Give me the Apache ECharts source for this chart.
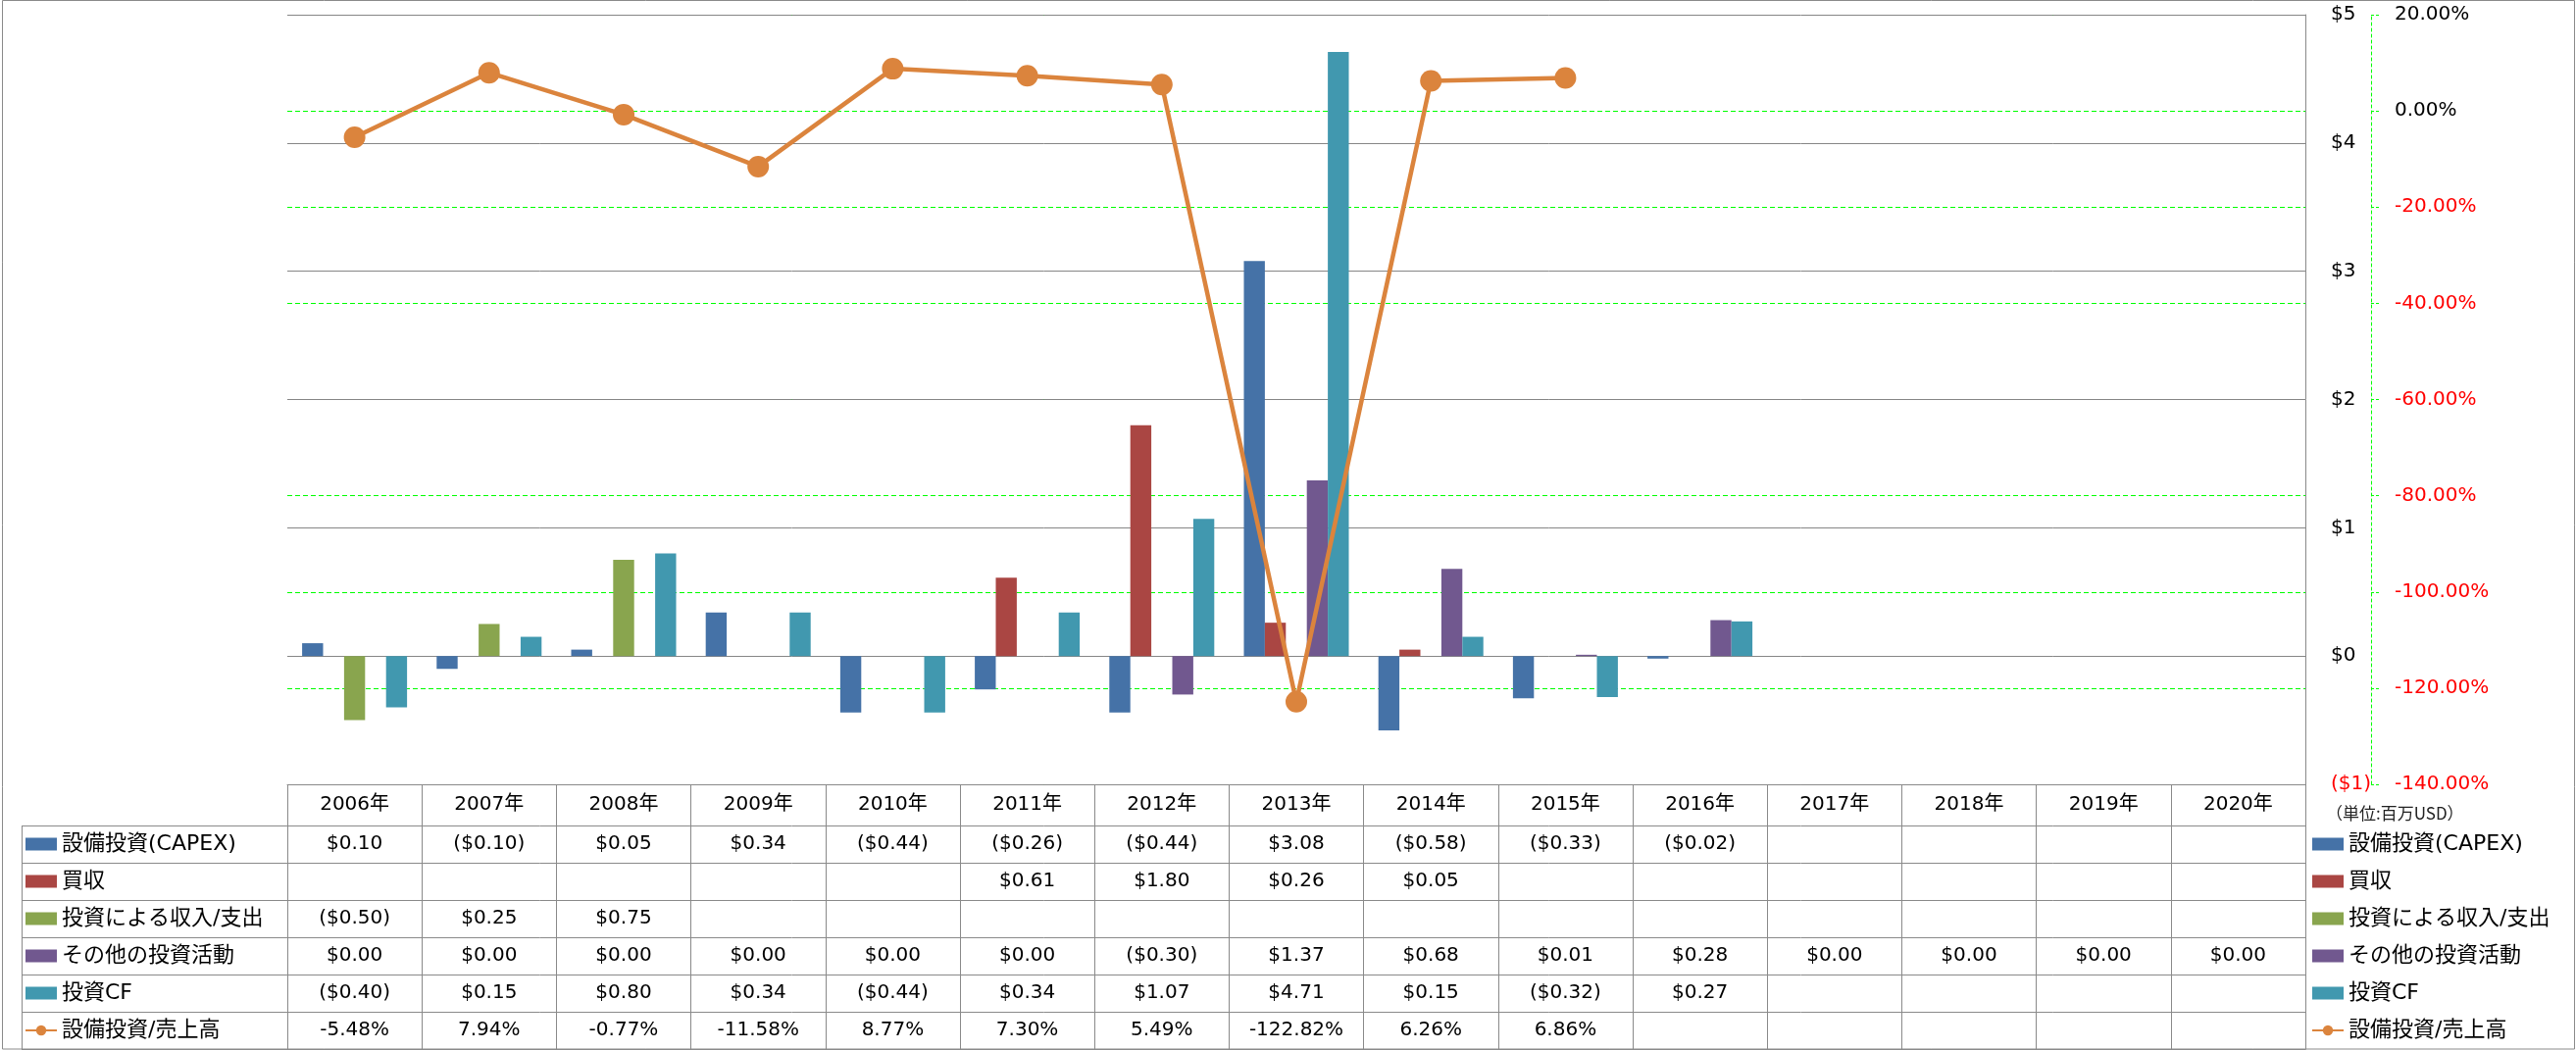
<!DOCTYPE html>
<html>
<head>
<meta charset="utf-8">
<script src="https://cdn.jsdelivr.net/npm/echarts@6/dist/echarts.min.js"></script>
<style>
html,body{margin:0;padding:0;background:#fff;}
#chart{width:2627px;height:1071px;}
</style>
</head>
<body>
<div id="chart"></div>
<script>
// ---- data ----
const categories = ['2006年','2007年','2008年','2009年','2010年','2011年','2012年','2013年','2014年','2015年','2016年','2017年','2018年','2019年','2020年'];
const seriesNames = ['設備投資(CAPEX)','買収','投資による収入/支出','その他の投資活動','投資CF','設備投資/売上高'];
const capex       = [0.10,-0.10,0.05,0.34,-0.44,-0.26,-0.44,3.08,-0.58,-0.33,-0.02,null,null,null,null];
const acquisition = [null,null,null,null,null,0.61,1.80,0.26,0.05,null,null,null,null,null,null];
const income      = [-0.50,0.25,0.75,null,null,null,null,null,null,null,null,null,null,null,null];
const other       = [0.00,0.00,0.00,0.00,0.00,0.00,-0.30,1.37,0.68,0.01,0.28,0.00,0.00,0.00,0.00];
const investCF    = [-0.40,0.15,0.80,0.34,-0.44,0.34,1.07,4.71,0.15,-0.32,0.27,null,null,null,null];
const capexRatio  = [-5.48,7.94,-0.77,-11.58,8.77,7.30,5.49,-122.82,6.26,6.86,null,null,null,null,null];
const usdAxis = {min:-1, max:5, interval:1};
const pctAxis = {min:-140, max:20, interval:20};
const unitNote = '（単位:百万USD）';

// ---- styling ----
const FONT = "'DejaVu Sans', 'Noto Sans CJK JP', sans-serif";
const colors = ['#4572A7','#AA4643','#89A54E','#71588F','#4198AF','#DB843D'];
const gridGrey = '#868686';
const lineGrey = '#8a8a8a';
const green = '#00FF00';

function fmtUsd(v){
  if (v === null || v === undefined) return '';
  return v < 0 ? '($' + Math.abs(v).toFixed(2) + ')' : '$' + v.toFixed(2);
}
function fmtPct(v){
  if (v === null || v === undefined) return '';
  return v.toFixed(2) + '%';
}

const tableRows = [capex, acquisition, income, other, investCF, capexRatio];
const rowKeys = ['r0','r1','r2','r3','r4','r5'];
const cellData = [];
const cellTexts = [];
tableRows.forEach((arr, r) => {
  arr.forEach((v, i) => {
    const t = r === 5 ? fmtPct(v) : fmtUsd(v);
    if (t !== '') { cellData.push([i, r]); cellTexts.push(t); }
  });
});

const chart = echarts.init(document.getElementById('chart'), null, {renderer:'canvas'});

// yAxis 0 = percent (drawn first, underneath), yAxis 1 = USD
const barSeries = [capex, acquisition, income, other, investCF].map((arr, k) => ({
  name: seriesNames[k],
  type: 'bar',
  xAxisIndex: 0, yAxisIndex: 1,
  data: arr,
  barGap: '0%',
  barCategoryGap: '22%',
  itemStyle: {color: colors[k]},
  z: 2
}));

// table column lines for legend column (styling only)
const tblLeft = 22, tblColRight = 293, rowTop = 842, rowH = 38, nRows = 6;
const legendColLines = [];
for (let r = 0; r <= nRows; r++) {
  legendColLines.push({type:'line', shape:{x1:tblLeft, y1:rowTop + r*rowH + 0.5, x2:tblColRight, y2:rowTop + r*rowH + 0.5}, style:{stroke:lineGrey, lineWidth:1}});
}
legendColLines.push({type:'line', shape:{x1:tblLeft + 0.5, y1:rowTop, x2:tblLeft + 0.5, y2:rowTop + nRows*rowH}, style:{stroke:lineGrey, lineWidth:1}});

const legendData = seriesNames.map((n, k) => k < 5 ? {name:n, icon:'rect'} : {name:n});
const legendCommon = {
  orient: 'vertical',
  padding: 0,
  itemWidth: 32,
  itemHeight: 13,
  itemGap: 16,
  selectedMode: false,
  textStyle: {fontSize: 22, lineHeight: 22, fontFamily: FONT, color: '#000'},
  data: legendData
};

const option = {
  animation: false,
  backgroundColor: '#fff',
  textStyle: {fontFamily: FONT},
  grid: [
    {left: 293, right: 276, top: 15, bottom: 271},
    {left: 293, right: 276, top: 842, bottom: 1}
  ],
  legend: [
    Object.assign({left: 25, top: 850}, legendCommon),
    Object.assign({left: 2357, top: 850}, legendCommon)
  ],
  xAxis: [
    {
      type: 'category', gridIndex: 0, data: categories, position: 'bottom',
      axisLine: {show: true, onZero: false, lineStyle: {color: lineGrey, width: 1}},
      axisTick: {show: true, length: 42, interval: 0, lineStyle: {color: lineGrey, width: 1}},
      axisLabel: {show: true, interval: 0, margin: 11, fontSize: 20, lineHeight: 20, color: '#000', fontFamily: FONT},
      splitLine: {show: false}
    },
    {
      type: 'category', gridIndex: 1, data: categories, position: 'bottom',
      axisLine: {show: true, lineStyle: {color: lineGrey, width: 1}},
      axisTick: {show: false},
      axisLabel: {show: false},
      splitLine: {show: true, interval: 0, lineStyle: {color: lineGrey, width: 1}}
    }
  ],
  yAxis: [
    {
      type: 'value', gridIndex: 0, position: 'right', offset: 67,
      min: pctAxis.min, max: pctAxis.max, interval: pctAxis.interval,
      axisLine: {show: true, lineStyle: {color: green, width: 1, type: [3, 3]}},
      axisTick: {show: true, inside: false, length: 9, lineStyle: {color: green, width: 1, type: [3, 2]}},
      axisLabel: {
        margin: 24, fontSize: 20, fontFamily: FONT,
        formatter: v => Number(v).toFixed(2) + '%',
        color: v => Number(v) < 0 ? '#FF0000' : '#000'
      },
      splitLine: {show: true, lineStyle: {color: green, width: 1.2, type: [5, 3]}}
    },
    {
      type: 'value', gridIndex: 0, position: 'right',
      min: usdAxis.min, max: usdAxis.max, interval: usdAxis.interval,
      axisLine: {show: true, lineStyle: {color: lineGrey, width: 1}},
      axisTick: {show: false},
      axisLabel: {
        margin: 26, fontSize: 20, fontFamily: FONT,
        formatter: v => v < 0 ? '($' + Math.abs(v) + ')' : '$' + v,
        color: v => Number(v) < 0 ? '#FF0000' : '#000'
      },
      splitLine: {show: true, lineStyle: {color: gridGrey, width: 1}}
    },
    {
      type: 'category', gridIndex: 1, data: rowKeys, inverse: true,
      axisLine: {show: true, lineStyle: {color: lineGrey, width: 1}},
      axisTick: {show: false},
      axisLabel: {show: false},
      splitLine: {show: true, interval: 0, lineStyle: {color: lineGrey, width: 1}}
    },
    {
      type: 'category', gridIndex: 1, data: rowKeys, inverse: true, position: 'right',
      axisLine: {show: true, lineStyle: {color: lineGrey, width: 1}},
      axisTick: {show: false},
      axisLabel: {show: false},
      splitLine: {show: false}
    }
  ],
  series: barSeries.concat([
    {
      name: seriesNames[5],
      type: 'line',
      xAxisIndex: 0, yAxisIndex: 0,
      data: capexRatio,
      connectNulls: false,
      symbol: 'circle',
      symbolSize: 22,
      lineStyle: {color: colors[5], width: 4.5},
      itemStyle: {color: colors[5]},
      z: 5
    },
    {
      name: 'table',
      type: 'custom',
      xAxisIndex: 1, yAxisIndex: 2,
      data: cellData,
      encode: {x: 0, y: 1},
      renderItem: function (params, api) {
        const p = api.coord([api.value(0), api.value(1)]);
        return {
          type: 'text',
          x: p[0], y: p[1],
          style: {
            text: cellTexts[params.dataIndex],
            fill: '#000',
            fontSize: 20,
            fontFamily: FONT,
            align: 'center',
            verticalAlign: 'middle'
          }
        };
      },
      z: 3
    }
  ]),
  graphic: [
    {type: 'rect', shape: {x: 2.5, y: 0.5, width: 2623, height: 1069.5}, style: {fill: 'none', stroke: lineGrey, lineWidth: 1}, silent: true, z: 0},
    {type: 'text', x: 2372, y: 830, style: {text: unitNote, fontSize: 17, fontFamily: "'Noto Sans CJK JP', sans-serif", fill: '#222', verticalAlign: 'middle', align: 'left'}}
  ].concat(legendColLines)
};

chart.setOption(option);
</script>
</body>
</html>
